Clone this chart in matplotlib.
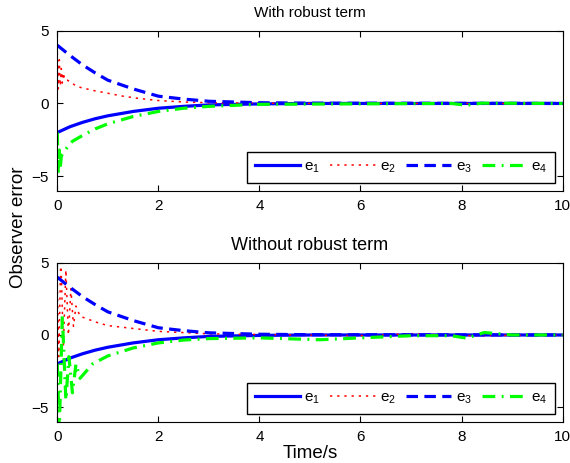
import matplotlib
matplotlib.use('Agg')
import matplotlib.pyplot as plt
import numpy as np

plt.rcParams['font.family'] = ['Liberation Sans', 'DejaVu Sans']
plt.rcParams['mathtext.fontset'] = 'custom'
plt.rcParams['mathtext.rm'] = 'Liberation Sans'

# ---- values ----
# with robust term
t_e1 = [0, 0.25, 0.5, 0.75, 1, 1.5, 2, 2.5, 3, 4, 5, 10]
e1 = [-2.0, -1.6, -1.3, -1.05, -0.85, -0.55, -0.33, -0.2, -0.1, -0.03, 0.0, 0.0]

t_e3 = [0, 0.25, 0.5, 0.75, 1, 1.5, 2, 2.5, 3, 4, 5, 10]
e3 = [4.0, 3.3, 2.65, 2.1, 1.6, 1.0, 0.5, 0.3, 0.15, 0.05, 0.02, 0.0]

t_e2a = [0, 0.02, 0.04, 0.06, 0.08, 0.1, 0.12, 0.15, 0.2, 0.4, 0.7, 1.0, 1.3, 1.6, 2.0, 2.5, 3.0, 4.0, 5.0, 10]
e2a = [3.5, 1.0, 3.0, 1.2, 2.4, 1.4, 2.1, 1.6, 1.6, 1.15, 0.9, 0.7, 0.5, 0.35, 0.2, 0.1, 0.05, 0.02, 0.0, 0.0]

t_e4a = [0, 0.02, 0.04, 0.06, 0.08, 0.12, 0.2, 0.3, 0.5, 0.75, 1.0, 1.5, 2.0, 2.5, 3.0, 4.0, 5.0, 7.8, 8.1, 8.4, 10]
e4a = [-2.0, -4.8, -3.2, -4.4, -3.6, -3.4, -3.0, -2.6, -2.2, -1.75, -1.4, -0.9, -0.55, -0.33, -0.2, -0.06, -0.04, 0.0, -0.12, 0.02, 0.0]

# without robust term
t_e2b = [0, 0.03, 0.07, 0.12, 0.17, 0.22, 0.27, 0.32, 0.37, 0.45, 0.6, 0.8, 1.0, 1.5, 2.0, 3.0, 4.0, 6.0, 7.0, 8.0, 10]
e2b = [3.5, -1.5, 5.5, -0.8, 4.5, 0.0, 3.2, 0.6, 2.0, 1.3, 1.1, 0.85, 0.65, 0.45, 0.25, 0.08, 0.03, -0.05, 0.08, -0.05, 0.0]

t_e4b = [0, 0.04, 0.1, 0.17, 0.23, 0.3, 0.37, 0.45, 0.55, 0.7, 1.0, 1.5, 2.0, 2.5, 3.0, 4.0, 5.2, 6.0, 7.0, 7.8, 8.1, 8.45, 9.0, 10]
e4b = [-2.0, -6.5, 1.3, -4.5, -1.5, -4.0, -2.0, -3.0, -2.6, -2.0, -1.45, -0.9, -0.55, -0.35, -0.25, -0.2, -0.33, -0.2, -0.05, -0.05, -0.22, 0.17, 0.0, 0.0]

titles = ['With robust term', 'Without robust term']
labels = ['$\\mathregular{e_1}$', '$\\mathregular{e_2}$', '$\\mathregular{e_3}$', '$\\mathregular{e_4}$']

fig = plt.figure(figsize=(5.7, 4.63), dpi=100)
ax1 = fig.add_axes([0.1005, 0.588, 0.8865, 0.3457])
ax2 = fig.add_axes([0.1005, 0.0892, 0.8865, 0.3434])

data = [(e2a, t_e2a, e4a, t_e4a), (e2b, t_e2b, e4b, t_e4b)]

for ax, title, (e2, t2, e4, t4) in zip([ax1, ax2], titles, data):
    ax.plot(t_e1, e1, color='#0000ff', lw=2.3, label=labels[0])
    ax.plot(t2, e2, color='#ff0000', lw=1.1, ls=':', dashes=(1.5, 3.2), label=labels[1])
    ax.plot(t_e3, e3, color='#0000ff', lw=2.3, ls='--', dashes=(3.6, 2.0), label=labels[2])
    ax.plot(t4, e4, color='#00ff00', lw=2.3, ls='-.', dashes=(4, 2, 0.6, 2), label=labels[3])
    ax.set_xlim(0, 10)
    ax.set_ylim(-6, 5)
    ax.set_xticks([0, 2, 4, 6, 8, 10])
    ax.set_yticks([-5, 0, 5])
    ax.set_yticklabels(['\u22125', '0', '5'])
    ax.tick_params(direction='in', top=True, right=True, labelsize=11, length=4, pad=6)
    leg = ax.legend(ncol=4, loc='lower right', bbox_to_anchor=(0.985, 0.05),
                    fontsize=11, handlelength=2.95, columnspacing=0.65,
                    handletextpad=0.3, fancybox=False, framealpha=1,
                    borderpad=0.5, borderaxespad=0)
    leg.get_frame().set_edgecolor('black')
    leg.get_frame().set_linewidth(1.0)

ax1.set_title(titles[0], fontsize=11, pad=10)
ax2.set_title(titles[1], fontsize=13, pad=9)
fig.text(0.033, 0.51, 'Observer error', rotation=90, ha='center', va='center', fontsize=13.5)
ax2.set_xlabel('Time/s', fontsize=13.5, labelpad=1)

fig.savefig('out.png', dpi=100)
